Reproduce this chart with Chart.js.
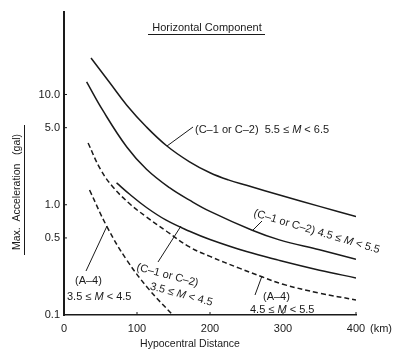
<!DOCTYPE html>
<html>
<head>
<meta charset="utf-8">
<script src="https://cdn.jsdelivr.net/npm/chart.js@4.4.1/dist/chart.umd.min.js"></script>
<style>
	body { margin: 0; background: #fff; }
	canvas { display: block; }
</style>
</head>
<body>
<canvas id="myChart" width="396" height="354"></canvas>
<script>
// hypocentral distance (km) vs max acceleration (gal)

var distC55 = [37, 63, 86, 113, 141, 172, 200, 225, 250, 300, 350, 400];
var accC55  = [21.4, 12.7, 8.0, 5.07, 3.41, 2.45, 1.95, 1.68, 1.5, 1.2, 0.966, 0.78];

var distC45 = [31, 53, 86, 113, 145, 172, 200, 257, 295, 350, 400];
var accC45  = [13.0, 7.2, 3.34, 2.1, 1.42, 1.10, 0.87, 0.59, 0.48, 0.39, 0.32];

var distC35 = [72, 90, 113, 140, 172, 200, 250, 295, 350, 400];
var accC35  = [1.58, 1.245, 0.944, 0.724, 0.575, 0.484, 0.376, 0.313, 0.255, 0.217];

var distA45 = [33, 50, 67, 90, 113, 140, 172, 200, 240, 272, 300, 350, 400];
var accA45  = [3.63, 2.09, 1.45, 1.02, 0.775, 0.578, 0.414, 0.34, 0.266, 0.221, 0.19, 0.158, 0.137];

var distA35 = [35, 59, 86, 117, 149];
var accA35  = [1.36, 0.63, 0.315, 0.169, 0.1];

var xTicks = [0, 100, 200, 300, 400];
var yTicks = [0.1, 0.5, 1, 5, 10];

var INK = '#1a1a1a';
var FAMILY = '"Liberation Sans", Arial, sans-serif';

function pts(xs, ys) {
	return xs.map(function (x, i) { return { x: x, y: ys[i] } })
}

function font(size, italic) {
	return (italic ? 'italic ' : '') + size + 'px ' + FAMILY
}

// text with an italic M
function rich(ctx, x, y, parts, size) {
	parts.forEach(function (p) {
		ctx.font = font(size, p[1]);
		ctx.fillText(p[0], x, y);
		x += ctx.measureText(p[0]).width;
	})
}

function mRange(lo, hi) {
	return [[lo + ' \u2264 ', false], ['M', true], [' < ' + hi, false]]
}

function seg(ctx, x1, y1, x2, y2) {
	ctx.beginPath();
	ctx.moveTo(x1, y1);
	ctx.lineTo(x2, y2);
	ctx.stroke();
}

var labelsPlugin = {
	id: 'labels',
	afterDraw: function (chart) {
		var ctx = chart.ctx;
		var xs = chart.scales.x, ys = chart.scales.y;
		ctx.save();
		ctx.fillStyle = INK;
		ctx.strokeStyle = INK;
		ctx.lineWidth = 1;

		// small inward tick marks
		xTicks.slice(1).forEach(function (v) {
			var p = xs.getPixelForValue(v);
			seg(ctx, p, ys.bottom, p, ys.bottom - 3);
		})
		yTicks.slice(1).forEach(function (v) {
			var p = ys.getPixelForValue(v);
			seg(ctx, xs.left, p, xs.left + 3, p);
		})

		// title
		ctx.font = font(11);
		ctx.textAlign = 'center';
		ctx.textBaseline = 'alphabetic';
		ctx.fillText('Horizontal Component', 207, 31);
		seg(ctx, 148, 34.5, 265, 34.5);

		// axis titles
		ctx.font = font(10.5);
		ctx.fillText('Hypocentral Distance', 190, 347);
		ctx.textAlign = 'left';
		ctx.font = font(11);
		ctx.fillText('(km)', 370, 332);

		ctx.save();
		ctx.translate(20, 192);
		ctx.rotate(-Math.PI / 2);
		ctx.textAlign = 'center';
		ctx.font = font(10.5);
		ctx.fillText('Max.  Acceleration   (gal)', 0, 0);
		ctx.restore();
		seg(ctx, 24.5, 125, 24.5, 255);

		ctx.textAlign = 'left';
		var fs = 11;

		// (C-1 or C-2) 5.5 <= M < 6.5
		rich(ctx, 195, 133, [['(C\u20131 or C\u20132)  ', false]].concat(mRange('5.5', '6.5')), fs);
		seg(ctx, 193, 127, 167, 146);

		// (C-1 or C-2) 4.5 <= M < 5.5, rotated along the curve
		ctx.save();
		ctx.translate(253, 216);
		ctx.rotate(16.5 * Math.PI / 180);
		rich(ctx, 0, 0, [['(C\u20131 or C\u20132) ', false]].concat(mRange('4.5', '5.5')), fs);
		ctx.restore();
		seg(ctx, 262, 221, 252, 231);

		// (C-1 or C-2) 3.5 <= M < 4.5
		ctx.save();
		ctx.translate(136, 270);
		ctx.rotate(15 * Math.PI / 180);
		rich(ctx, 0, 0, [['(C\u20131 or C\u20132)', false]], fs);
		rich(ctx, 18, 15, mRange('3.5', '4.5'), fs);
		ctx.restore();
		seg(ctx, 158, 262, 181, 226);

		// (A-4) 3.5 <= M < 4.5
		rich(ctx, 75, 284, [['(A\u20134)', false]], fs);
		rich(ctx, 67, 300, mRange('3.5', '4.5'), fs);
		seg(ctx, 86, 271, 107, 226);

		// (A-4) 4.5 <= M < 5.5
		rich(ctx, 263, 300, [['(A\u20134)', false]], fs);
		rich(ctx, 250, 313, mRange('4.5', '5.5'), fs);
		seg(ctx, 262, 276, 255, 295);

		ctx.restore();
	}
};

function curve(xs, ys, dashed) {
	return {
		data: pts(xs, ys),
		showLine: true,
		borderColor: INK,
		borderWidth: 1.5,
		borderDash: dashed ? [5, 3] : [],
		pointRadius: 0,
		tension: 0.4,
		fill: false,
	}
}

var ctx = document.getElementById('myChart').getContext('2d');
var chart = new Chart(ctx, {
	type: 'scatter',
	data: {
		datasets: [
			curve(distC55, accC55, false),
			curve(distC45, accC45, false),
			curve(distC35, accC35, false),
			curve(distA45, accA45, true),
			curve(distA35, accA35, true),
		]
	},
	options: {
		responsive: false,
		animation: false,
		devicePixelRatio: 1,
		layout: { padding: { left: 0, top: 12, right: 40, bottom: 0 } },
		plugins: {
			legend: { display: false },
			tooltip: { enabled: false },
		},
		scales: {
			x: {
				type: 'linear',
				min: 0,
				max: 400,
				grid: { display: false, drawTicks: false },
				border: { display: true, color: INK, width: 1.5 },
				ticks: {
					stepSize: 100,
					padding: 7,
					color: INK,
					font: { family: FAMILY, size: 11 },
				},
				afterBuildTicks: function (scale) {
					scale.ticks = xTicks.map(function (v) { return { value: v } })
				},
				afterFit: function (scale) { scale.height = 39 },
			},
			y: {
				type: 'logarithmic',
				min: 0.1,
				max: 56,
				grid: { display: false, drawTicks: false },
				border: { display: true, color: INK, width: 2 },
				ticks: {
					padding: 4,
					color: INK,
					font: { family: FAMILY, size: 11 },
					callback: function (v) { return Number(v).toFixed(1) },
				},
				afterBuildTicks: function (scale) {
					scale.ticks = yTicks.map(function (v) { return { value: v } })
				},
				afterFit: function (scale) { scale.width = 64 },
			}
		}
	},
	plugins: [labelsPlugin]
});
</script>
</body>
</html>
